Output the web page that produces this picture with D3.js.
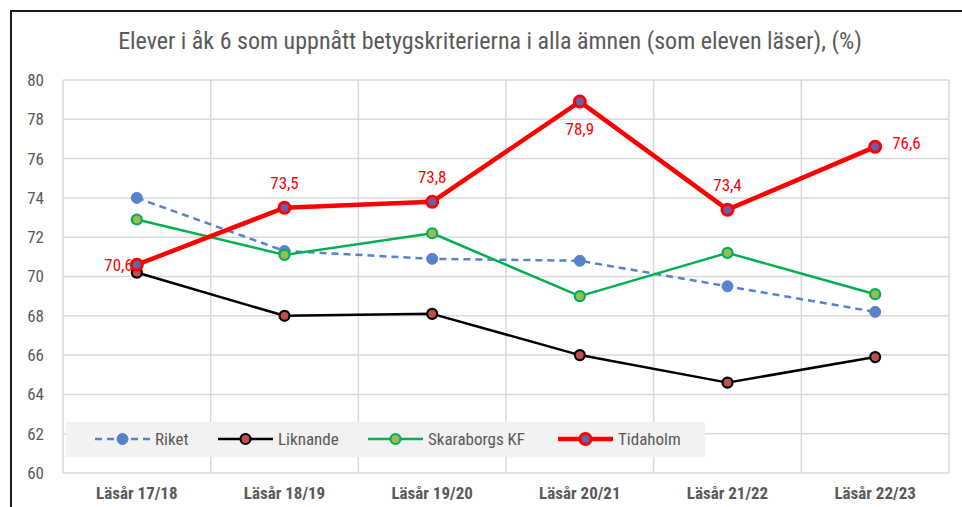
<!DOCTYPE html>
<html>
<head>
<meta charset="utf-8">
<script src="https://cdn.jsdelivr.net/npm/d3@7"></script>
<style>
  html, body { margin: 0; padding: 0; background: #fff; }
  svg { display: block; }
  text { font-family: "Liberation Sans Narrow", "Roboto Condensed", "Roboto", sans-serif; }
</style>
</head>
<body>
<svg id="chart" width="962" height="507"></svg>
<script>
const categories = ["Läsår 17/18", "Läsår 18/19", "Läsår 19/20", "Läsår 20/21", "Läsår 21/22", "Läsår 22/23"];
const riket = [74.0, 71.3, 70.9, 70.8, 69.5, 68.2];
const liknande = [70.2, 68.0, 68.1, 66.0, 64.6, 65.9];
const skaraborg = [72.9, 71.1, 72.2, 69.0, 71.2, 69.1];
const tidaholm = [70.6, 73.5, 73.8, 78.9, 73.4, 76.6];
const yTicks = [60, 62, 64, 66, 68, 70, 72, 74, 76, 78, 80];
const seriesNames = ["Riket", "Liknande", "Skaraborgs KF", "Tidaholm"];
const title = "Elever i åk 6 som uppnått betygskriterierna i alla ämnen (som eleven läser), (%)";

const FONT = "'Liberation Sans Narrow', 'Roboto Condensed', Roboto, sans-serif";
const svg = d3.select("#chart");
const W = 962, H = 507;
const plot = { left: 63, right: 949, top: 80, bottom: 473 };

// outer frame
svg.append("rect").attr("x", 11).attr("y", 11).attr("width", W + 10).attr("height", H + 10)
  .attr("fill", "#fff").attr("stroke", "#1a1a1a").attr("stroke-width", 2);

const x = d3.scaleBand().domain(categories).range([plot.left, plot.right]).padding(0);
const y = d3.scaleLinear().domain([60, 80]).range([plot.bottom, plot.top]);
const cx = c => x(c) + x.bandwidth() / 2;

// grid
const grid = svg.append("g");
grid.selectAll("line.h").data(yTicks).join("line")
  .attr("x1", plot.left).attr("x2", plot.right)
  .attr("y1", d => y(d)).attr("y2", d => y(d))
  .attr("stroke", "#d9d9d9").attr("stroke-width", 1.5);
const vlines = categories.map(c => x(c)).concat([plot.right]);
grid.selectAll("line.v").data(vlines).join("line")
  .attr("x1", d => d).attr("x2", d => d)
  .attr("y1", plot.top).attr("y2", plot.bottom)
  .attr("stroke", "#d9d9d9").attr("stroke-width", 1.5);

// y axis
const yAxis = d3.axisLeft(y).tickValues(yTicks).tickSize(0).tickPadding(0);
const ya = svg.append("g").attr("transform", `translate(44,0)`).call(yAxis);
ya.select(".domain").remove();
ya.selectAll("text").attr("fill", "#595959").style("font-size", "17px").style("font-family", FONT);

// x axis
const xAxis = d3.axisBottom(x).tickSize(0).tickPadding(0);
const xa = svg.append("g").attr("transform", `translate(0,487)`).call(xAxis);
xa.select(".domain").remove();
xa.selectAll("text").attr("fill", "#595959").style("font-size", "17px").style("font-weight", "bold")
  .style("font-family", FONT);

// title
svg.append("text").attr("x", 490).attr("y", 49).attr("text-anchor", "middle")
  .attr("fill", "#595959").style("font-size", "24px").text(title);

// legend
const legend = svg.append("g");
legend.append("rect").attr("x", 66).attr("y", 422).attr("width", 639).attr("height", 35).attr("fill", "#f2f2f2");

const styles = [
  { name: seriesNames[0], data: riket, color: "#5583c9", width: 2.5, dash: "7,5", r: 5.5, fill: "#5583c9", mstroke: "#5583c9", mw: 1, lx: 95 },
  { name: seriesNames[1], data: liknande, color: "#000000", width: 2.5, dash: null, r: 5, fill: "#c0504d", mstroke: "#000000", mw: 2.2, lx: 218 },
  { name: seriesNames[2], data: skaraborg, color: "#00b050", width: 2.5, dash: null, r: 5, fill: "#9bbb59", mstroke: "#00b050", mw: 2.2, lx: 368 },
  { name: seriesNames[3], data: tidaholm, color: "#ff0000", width: 4.5, dash: null, r: 5.5, fill: "#6a5fa8", mstroke: "#ff0000", mw: 3, lx: 558 }
];

const line = d3.line().x((d, i) => cx(categories[i])).y(d => y(d));

styles.forEach(s => {
  const g = svg.append("g");
  g.append("path").datum(s.data).attr("d", line).attr("fill", "none")
    .attr("stroke", s.color).attr("stroke-width", s.width)
    .attr("stroke-dasharray", s.dash).attr("stroke-linejoin", "round");
  g.selectAll("circle").data(s.data).join("circle")
    .attr("cx", (d, i) => cx(categories[i])).attr("cy", d => y(d)).attr("r", s.r)
    .attr("fill", s.fill).attr("stroke", s.mstroke).attr("stroke-width", s.mw);

  // legend item
  const ly = 439;
  legend.append("line").attr("x1", s.lx).attr("x2", s.lx + 55).attr("y1", ly).attr("y2", ly)
    .attr("stroke", s.color).attr("stroke-width", s.width).attr("stroke-dasharray", s.dash);
  legend.append("circle").attr("cx", s.lx + 27.5).attr("cy", ly).attr("r", s.r)
    .attr("fill", s.fill).attr("stroke", s.mstroke).attr("stroke-width", s.mw);
  legend.append("text").attr("x", s.lx + 60).attr("y", ly + 6).attr("fill", "#595959")
    .style("font-size", "17px").text(s.name);
});

// data labels for Tidaholm
const fmt = v => v.toFixed(1).replace(".", ",");
const labelPos = [
  { dx: -4, dy: 6, anchor: "end" },
  { dx: 0, dy: -19, anchor: "middle" },
  { dx: 0, dy: -19, anchor: "middle" },
  { dx: 0, dy: 33, anchor: "middle" },
  { dx: 0, dy: -19, anchor: "middle" },
  { dx: 17, dy: 2, anchor: "start" }
];
svg.append("g").selectAll("text").data(tidaholm).join("text")
  .attr("x", (d, i) => cx(categories[i]) + labelPos[i].dx)
  .attr("y", (d, i) => y(d) + labelPos[i].dy)
  .attr("text-anchor", (d, i) => labelPos[i].anchor)
  .attr("fill", "#ff0000").style("font-size", "17px")
  .text(fmt);
</script>
</body>
</html>
